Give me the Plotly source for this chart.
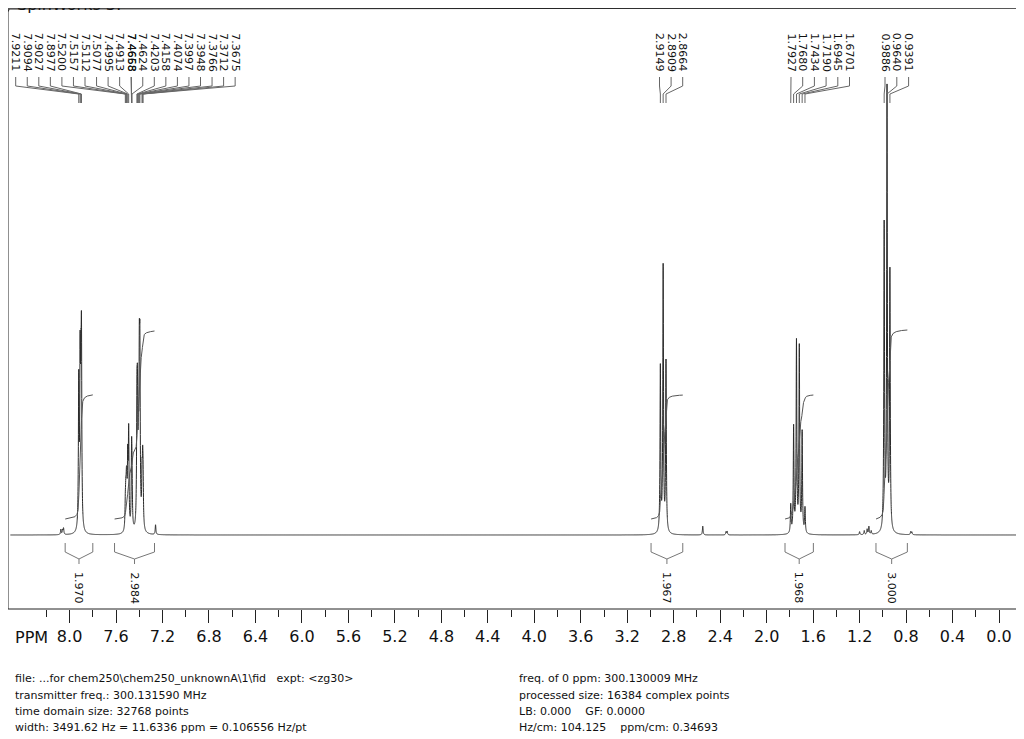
import numpy as np
import plotly.graph_objects as go

# ---------------- data ----------------
# labelled peaks (ppm) and relative intensities (tallest = 100)
peak_ppm = [7.9211, 7.9094, 7.9027, 7.8977,
            7.5200, 7.5157, 7.5112, 7.5077, 7.4995, 7.4913, 7.4668, 7.4658, 7.4624,
            7.4203, 7.4158, 7.4074, 7.3997, 7.3948, 7.3766, 7.3712, 7.3675,
            2.9149, 2.8909, 2.8664,
            1.7927, 1.7680, 1.7434, 1.7190, 1.6945, 1.6701,
            0.9886, 0.9640, 0.9391]
peak_rel = [33.0, 35.2, 25.0, 38.6,
            5.0, 6.4, 6.4, 7.3, 14.8, 21.6, 8.0, 9.1, 9.1,
            25.0, 23.9, 15.9, 31.8, 34.1, 10.2, 11.4, 9.1,
            37.5, 60.2, 38.6,
            6.4, 23.9, 43.2, 42.0, 22.7, 5.7,
            69.3, 100.0, 58.6]
peak_labels = ["7.9211", "7.9094", "7.9027", "7.8977",
               "7.5200", "7.5157", "7.5112", "7.5077", "7.4995", "7.4913", "7.4668", "7.4658", "7.4624",
               "7.4203", "7.4158", "7.4074", "7.3997", "7.3948", "7.3766", "7.3712", "7.3675",
               "2.9149", "2.8909", "2.8664",
               "1.7927", "1.7680", "1.7434", "1.7190", "1.6945", "1.6701",
               "0.9886", "0.9640", "0.9391"]

# small unlabelled signals (impurities / solvent)
minor_ppm = [8.075, 8.060, 8.052, 7.260, 2.550, 2.350, 2.340,
             1.200, 1.160, 1.135, 1.120, 1.100, 0.760, 0.750]
minor_rel = [1.2, 1.0, 1.4, 2.2, 2.0, 0.7, 0.8,
             0.7, 0.9, 1.2, 1.8, 0.8, 0.7, 0.6]

# integrals
integral_from = [8.038, 7.613, 2.995, 1.842, 1.059]
integral_to = [7.800, 7.269, 2.722, 1.598, 0.789]
integral_value = [1.970, 2.984, 1.967, 1.968, 3.000]

# axis ticks
tick_vals = [8.0, 7.6, 7.2, 6.8, 6.4, 6.0, 5.6, 5.2, 4.8, 4.4, 4.0, 3.6, 3.2, 2.8, 2.4, 2.0, 1.6, 1.2, 0.8, 0.4, 0.0]
tick_text = ["8.0", "7.6", "7.2", "6.8", "6.4", "6.0", "5.6", "5.2", "4.8", "4.4", "4.0", "3.6", "3.2", "2.8",
             "2.4", "2.0", "1.6", "1.2", "0.8", "0.4", "0.0"]
minor_tick_vals = [8.2, 7.8, 7.4, 7.0, 6.6, 6.2, 5.8, 5.4, 5.0, 4.6, 4.2, 3.8, 3.4, 3.0, 2.6, 2.2, 1.8, 1.4,
                   1.0, 0.6, 0.2]

title_text = "SpinWorks 3:"
info_left = ["file: ...for chem250\\chem250_unknownA\\1\\fid   expt: &lt;zg30&gt;",
             "transmitter freq.: 300.131590 MHz",
             "time domain size: 32768 points",
             "width: 3491.62 Hz = 11.6336 ppm = 0.106556 Hz/pt"]
info_right = ["freq. of 0 ppm: 300.130009 MHz",
              "processed size: 16384 complex points",
              "LB: 0.000    GF: 0.0000",
              "Hz/cm: 104.125    ppm/cm: 0.34693"]

# ---------------- layout constants (page pixel coordinates) ----------------
PAGE_OFF = 8                      # default body margin of the html page
W, H = 1024 - PAGE_OFF, 739 - PAGE_OFF
PL, PR, PT, PB = 8, 1019, 8, 609  # plot area in page pixels
ML, MR, MT, MB = PL - PAGE_OFF, W + PAGE_OFF - PR, PT - PAGE_OFF, H + PAGE_OFF - PB
FRAME_TOP = 5
X_RANGE = [8.53, -0.172]
PX_PER_PPM = (PR - PL) / (X_RANGE[0] - X_RANGE[1])
BASE_PY = 535
Y_PX = 4.4
Y_RANGE = [-(PB - BASE_PY) / Y_PX, (BASE_PY - PT) / Y_PX]
HWHM = 0.0035
FONT = "DejaVu Sans"
FRAME_COLOR = "#222"


def px2ppm(px):
    return X_RANGE[0] - (px - PL) / PX_PER_PPM


def py2y(py):
    return (BASE_PY - py) / Y_PX


def py2paper(py):
    return (PB - py) / (PB - PT)


# ---------------- spectrum (Lorentzian line shapes of read peaks) ----------------
all_ppm = np.array(peak_ppm + minor_ppm)
all_amp = np.array(peak_rel + minor_rel)
grid = np.union1d(np.arange(-0.15, 8.51, 0.0005), all_ppm)[::-1]
spec = np.zeros_like(grid)
for p, a in zip(all_ppm, all_amp):
    spec += a * HWHM ** 2 / ((grid - p) ** 2 + HWHM ** 2)

fig = go.Figure()
fig.add_trace(go.Scatter(x=grid, y=spec, mode="lines",
                         line=dict(color="#2a2a2a", width=1, simplify=False),
                         hoverinfo="skip", showlegend=False))

# ---------------- integral curves ----------------
INT_OFF = 16 / Y_PX
INT_SCALE = 63 / Y_PX
ix, iy = [], []
for a, b, v in zip(integral_from, integral_to, integral_value):
    m = (grid <= a) & (grid >= b)
    xs = grid[m]
    ys = spec[m]
    cum = np.concatenate([[0.0], np.cumsum(0.5 * (ys[1:] + ys[:-1]) * np.abs(np.diff(xs)))])
    cum = cum / cum[-1]
    ix += list(xs) + [None]
    iy += list(INT_OFF + v * INT_SCALE * cum) + [None]
fig.add_trace(go.Scatter(x=ix, y=iy, mode="lines", line=dict(color="#555555", width=1),
                         hoverinfo="skip", showlegend=False))

# ---------------- integral brackets and labels ----------------
bx, by = [], []
annotations = []
for a, b, v in zip(integral_from, integral_to, integral_value):
    mid = 0.5 * (a + b)
    bx += [a, a, mid, b, b, None, mid, mid, None]
    by += [py2y(543), py2y(552), py2y(559), py2y(552), py2y(543), None, py2y(559), py2y(564), None]
    annotations.append(dict(x=mid, y=py2y(588), xref="x", yref="y", text=f"{v:.3f}", textangle=90,
                            showarrow=False, xanchor="center", yanchor="middle",
                            font=dict(family=FONT, size=11, color="#111")))
fig.add_trace(go.Scatter(x=bx, y=by, mode="lines", line=dict(color="#777777", width=1),
                         hoverinfo="skip", showlegend=False))

# ---------------- peak labels with leader lines ----------------
groups = [(15.7, 11.55, list(range(11)) + [10] + list(range(11, 20))),
          (659.5, 11.6, [0, 1, 2]),
          (791.0, 11.7, [0, 1, 2, 3, 4, 5]),
          (885.0, 11.8, [0, 1, 2])]
label_px = []
for start, step, cols in groups:
    label_px += [start + step * c for c in cols]

lx, ly = [], []
for cx, p, t in zip(label_px, peak_ppm, peak_labels):
    xl = px2ppm(cx)
    lx += [xl, xl, p, p, None]
    ly += [py2y(77), py2y(86), py2y(94), py2y(103), None]
    annotations.append(dict(x=xl, y=py2y(52.5), xref="x", yref="y", text=t, textangle=90,
                            showarrow=False, xanchor="center", yanchor="middle",
                            font=dict(family=FONT, size=11, color="#111")))
fig.add_trace(go.Scatter(x=lx, y=ly, mode="lines", line=dict(color="#666666", width=1),
                         hoverinfo="skip", showlegend=False))

# ---------------- texts ----------------
annotations.append(dict(x=0, y=py2paper(16), xref="paper", yref="paper", text=title_text, showarrow=False,
                        xanchor="left", yanchor="bottom", xshift=15 - PL,
                        font=dict(family=FONT, size=16, color="#111")))
annotations.append(dict(x=0, y=py2paper(637), xref="paper", yref="paper", text="PPM",
                        showarrow=False, xanchor="left", yanchor="middle", xshift=5,
                        font=dict(family=FONT, size=16, color="#111")))
for i, (tl, tr) in enumerate(zip(info_left, info_right)):
    yp = py2paper(679 + 16 * i)
    annotations.append(dict(x=0, y=yp, xref="paper", yref="paper", text=tl, showarrow=False,
                            xanchor="left", yanchor="middle", xshift=13 - PL,
                            font=dict(family=FONT, size=11, color="#111")))
    annotations.append(dict(x=0, y=yp, xref="paper", yref="paper", text=tr, showarrow=False,
                            xanchor="left", yanchor="middle", xshift=517 - PL,
                            font=dict(family=FONT, size=11, color="#111")))

# top edge of the frame lies in the page margin above the plot area: draw it as a plain arrow line
annotations.append(dict(x=0, y=py2paper(FRAME_TOP), xref="paper", yref="paper", text="",
                        showarrow=True, arrowhead=0, arrowwidth=1, arrowcolor=FRAME_COLOR,
                        ax=PR - PL + 2, ay=0, axref="pixel", ayref="pixel", standoff=0, startstandoff=0))
for xp in (0, 1):
    annotations.append(dict(x=xp, y=py2paper(FRAME_TOP), xref="paper", yref="paper", text="",
                            showarrow=True, arrowhead=0, arrowwidth=1, arrowcolor=FRAME_COLOR,
                            ax=0, ay=8, axref="pixel", ayref="pixel", standoff=0, startstandoff=0))

frame = dict(type="rect", xref="paper", yref="paper", x0=0, x1=1, y0=0, y1=1,
             line=dict(color=FRAME_COLOR, width=1), fillcolor="rgba(0,0,0,0)", layer="above")

fig.update_layout(
    width=W, height=H,
    margin=dict(l=ML, r=MR, t=MT, b=MB, pad=0),
    paper_bgcolor="white", plot_bgcolor="white",
    showlegend=False,
    annotations=annotations,
    shapes=[frame],
    xaxis=dict(range=X_RANGE, showgrid=False, zeroline=False, showline=False,
               ticks="outside", ticklen=13, tickwidth=1, tickcolor=FRAME_COLOR,
               tickvals=tick_vals, ticktext=tick_text, ticklabelstandoff=0,
               tickfont=dict(family=FONT, size=16, color="#111"),
               minor=dict(tickvals=minor_tick_vals, ticks="outside", ticklen=7, tickcolor=FRAME_COLOR,
                          showgrid=False)),
    yaxis=dict(range=Y_RANGE, showgrid=False, zeroline=False, showline=False,
               showticklabels=False, ticks=""),
)

fig.write_html("out.html")
